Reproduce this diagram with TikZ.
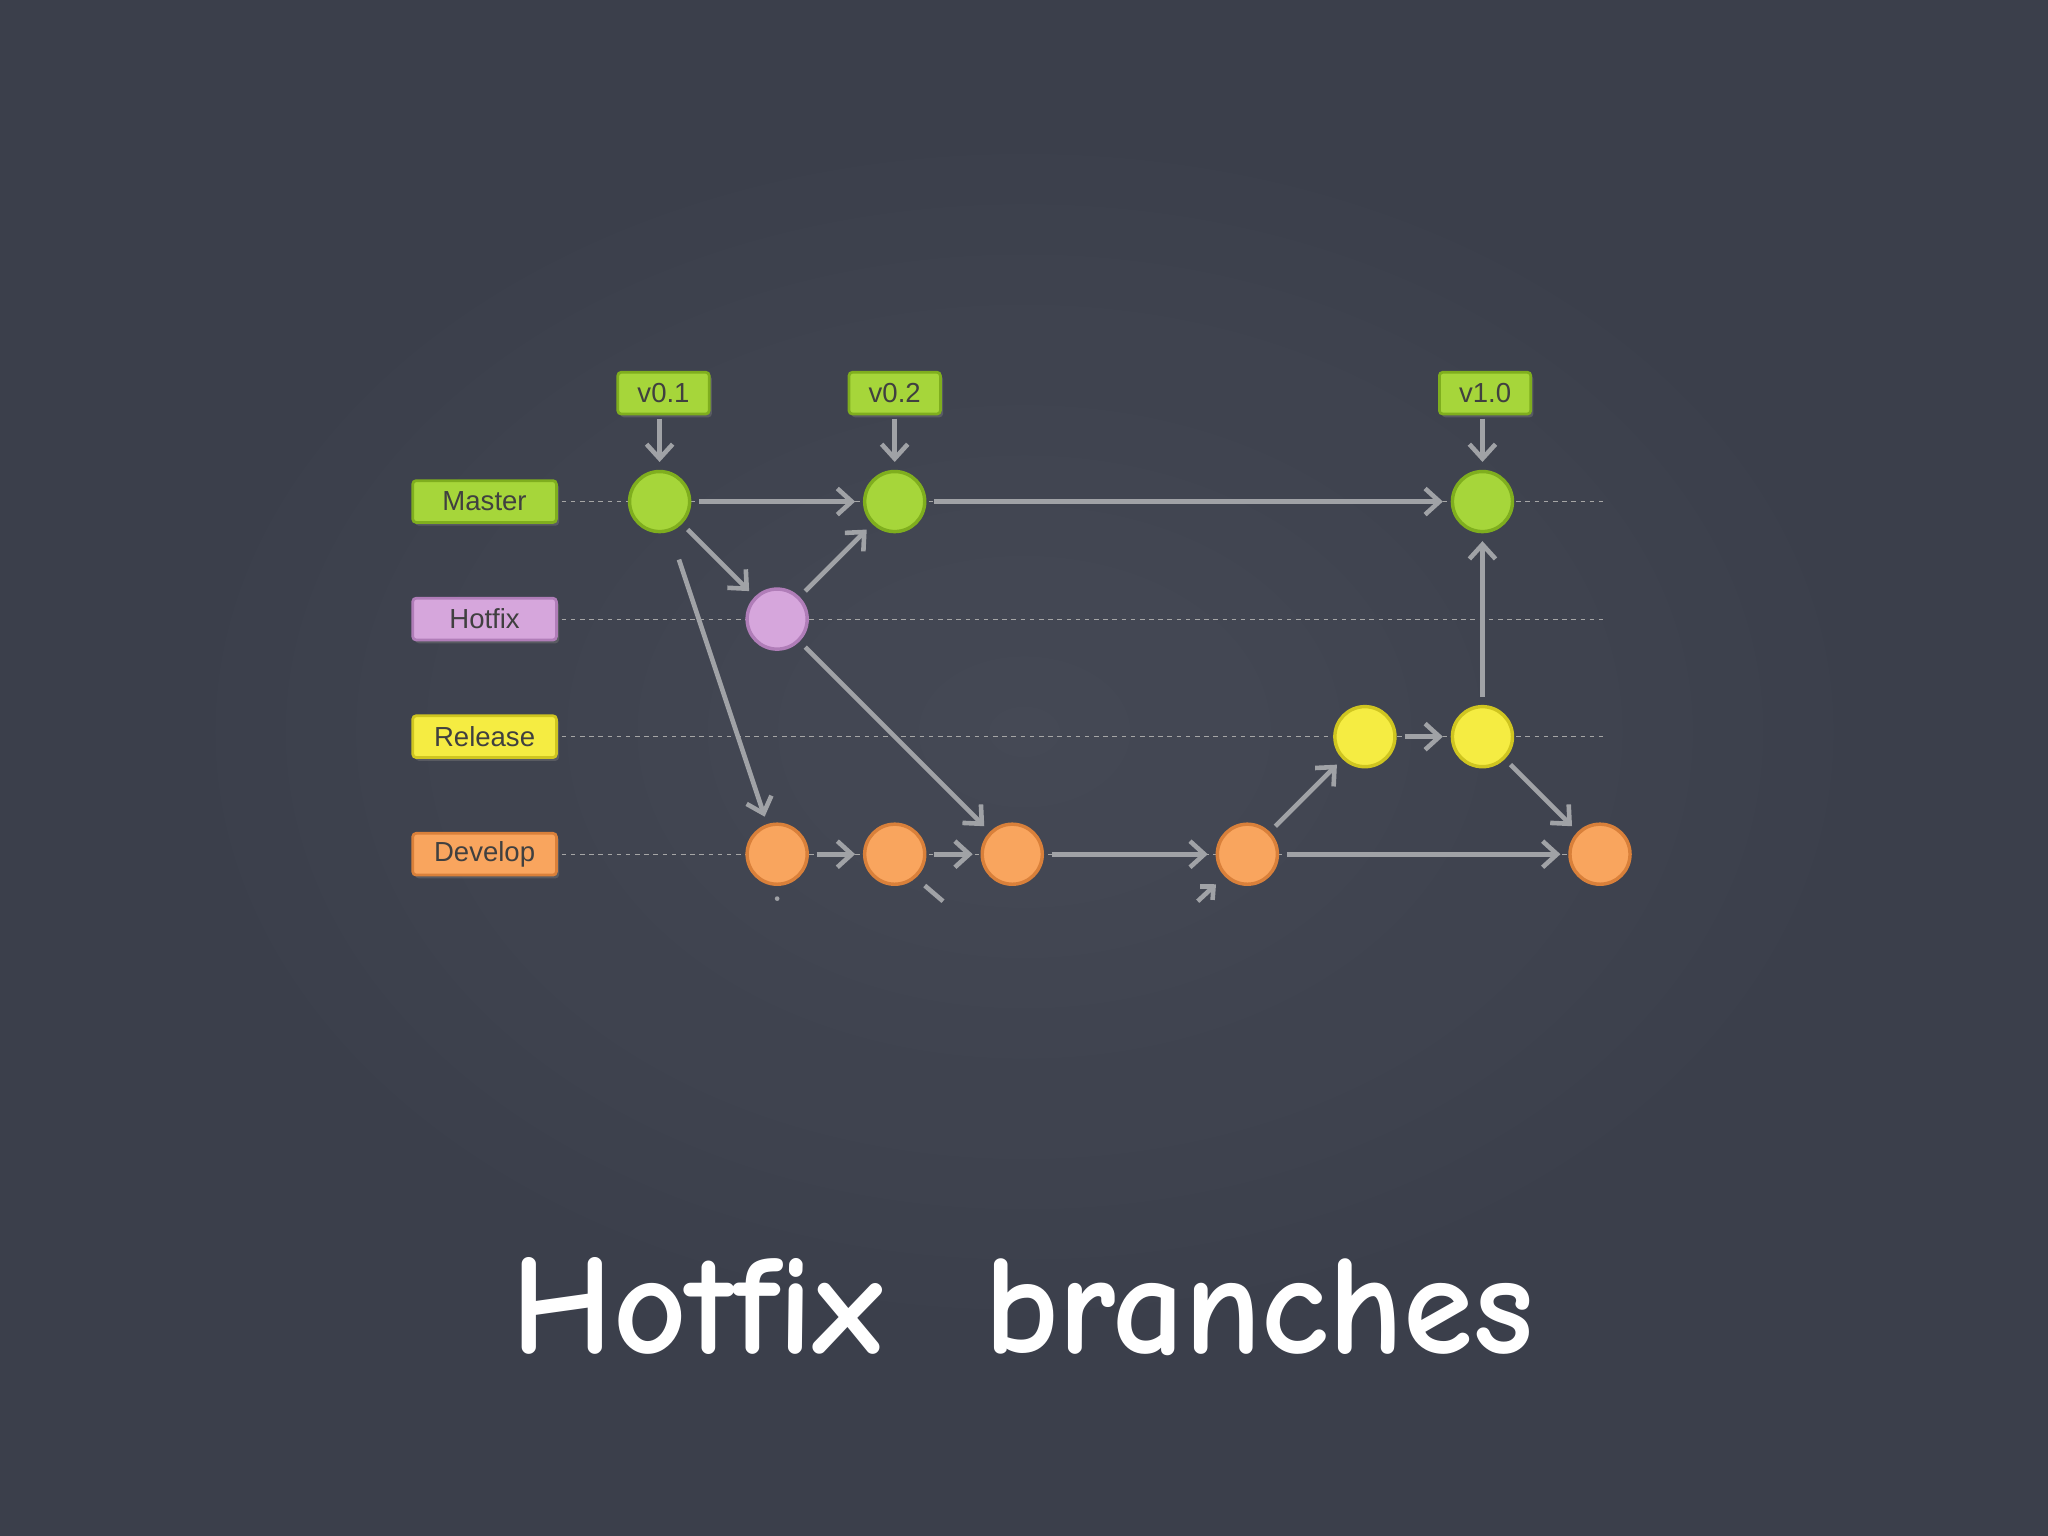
\documentclass[tikz,border=0pt]{standalone}
\usepackage{fontspec}
\setsansfont{Liberation Sans}
\newfontfamily\titlefont{Comic Neue}
\usetikzlibrary{arrows.meta,shadows}
\definecolor{bg}{HTML}{3B3F4B}
\definecolor{bgc}{HTML}{484C58}
\definecolor{mgreen}{HTML}{A6D63A}
\definecolor{mgreenD}{HTML}{7FAE1E}
\definecolor{hpink}{HTML}{D6A6DC}
\definecolor{hpinkD}{HTML}{B07DB8}
\definecolor{ryel}{HTML}{F5EC42}
\definecolor{ryelD}{HTML}{CFC520}
\definecolor{dor}{HTML}{F9A55E}
\definecolor{dorD}{HTML}{D9803A}
\definecolor{arr}{HTML}{A0A2A6}
\tikzset{
 lbl/.style={draw=#1D,fill=#1,line width=1.2pt,rounded corners=1.5pt,minimum width=2.2cm,minimum height=0.64cm,font=\sffamily\fontsize{12}{12}\selectfont,text=black!75,drop shadow={opacity=0.4,shadow xshift=0.04cm,shadow yshift=-0.05cm}},
 tag/.style={draw=mgreenD,fill=mgreen,line width=1.2pt,rounded corners=1.5pt,minimum width=1.4cm,minimum height=0.64cm,font=\sffamily\fontsize{12}{12}\selectfont,text=black!75,drop shadow={opacity=0.4,shadow xshift=0.04cm,shadow yshift=-0.05cm}},
 cm/.style={circle,draw=#1D,fill=#1,line width=1.5pt,minimum size=0.92cm,inner sep=0pt},
 ar/.style={draw=arr,line width=2pt,-{Straight Barb[length=0.22cm,width=0.4cm,line width=2pt]},shorten >=0.12cm,shorten <=0.12cm},
 rowline/.style={draw=gray!70,dashed,line width=0.4pt,dash pattern=on 2pt off 2pt}
}
\begin{document}
\begin{tikzpicture}[x=0.02cm,y=-0.02cm]
\useasboundingbox (0,0) rectangle (1568,1176);
\fill[bg] (0,0) rectangle (1568,1176);
\shade[inner color=bgc,outer color=bg,opacity=0.8] (784,560) ellipse (700 and 500);
% row lines
\foreach \y in {384,474,564,654} \draw[rowline] (430,\y) -- (1230,\y);
% labels
\node[lbl=mgreen] (lm) at (371,384) {Master};
\node[lbl=hpink] (lh) at (371,474) {Hotfix};
\node[lbl=ryel] (lr) at (371,564) {Release};
\node[lbl=dor] (ld) at (371,654) {Develop};
% tags
\node[tag] (t1) at (508,301) {v0.1};
\node[tag] (t2) at (685,301) {v0.2};
\node[tag] (t3) at (1137,301) {v1.0};
% commits
\node[cm=mgreen] (m1) at (505,384) {};
\node[cm=mgreen] (m2) at (685,384) {};
\node[cm=mgreen] (m3) at (1135,384) {};
\node[cm=hpink] (h1) at (595,474) {};
\node[cm=ryel] (r1) at (1045,564) {};
\node[cm=ryel] (r2) at (1135,564) {};
\node[cm=dor] (d1) at (595,654) {};
\node[cm=dor] (d2) at (685,654) {};
\node[cm=dor] (d3) at (775,654) {};
\node[cm=dor] (d4) at (955,654) {};
\node[cm=dor] (d5) at (1225,654) {};
% arrows
\draw[ar,shorten <=0.05cm] (t1.south -| m1) -- (m1);
\draw[ar,shorten <=0.05cm] (t2) -- (m2);
\draw[ar,shorten <=0.05cm] (t3.south -| m3) -- (m3);
\draw[ar] (m1) -- (m2);
\draw[ar] (m2) -- (m3);
\draw[ar] (m1) -- (h1);
\draw[ar] (h1) -- (m2);
\draw[ar] (h1) -- (d3);
\draw[ar,shorten <=0.45cm] (m1) -- (d1);
\draw[ar] (d1) -- (d2);
\draw[ar] (d2) -- (d3);
\draw[ar] (d3) -- (d4);
\draw[ar] (d4) -- (r1);
\draw[ar] (r1) -- (r2);
\draw[ar] (r2) -- (m3);
\draw[ar] (r2) -- (d5);
\draw[ar] (d4) -- (d5);
% stray marks
\coordinate (s1) at (917,690);
\coordinate (s2) at (931,677);
\draw[draw=arr,line width=2pt,-{Straight Barb[length=0.15cm,width=0.28cm,line width=2pt]}] (s1) -- (s2);
\coordinate (s3) at (708,678);
\coordinate (s4) at (722,690);
\draw[draw=arr,line width=2pt] (s3) -- (s4);
\fill[arr] (595,688) circle (1.8);
% title
\node[text=white,font=\titlefont\bfseries\fontsize{62}{70}\selectfont] (title) at (783,1000) {Hotfix\ \ branches};
\end{tikzpicture}
\end{document}
